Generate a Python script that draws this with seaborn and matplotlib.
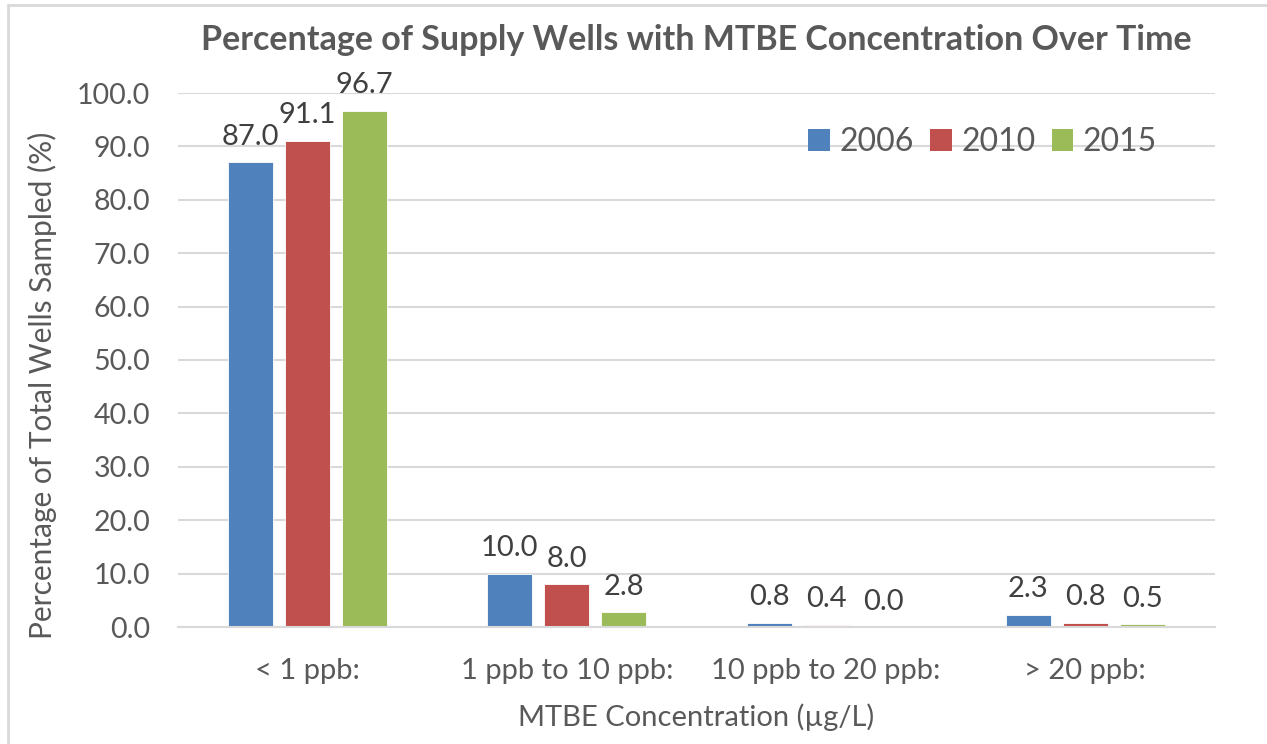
import numpy as np
import pandas as pd
import matplotlib.pyplot as plt
import seaborn as sns
from matplotlib.lines import Line2D
from matplotlib.patches import Patch

categories = ["< 1 ppb:", "1 ppb to 10 ppb:", "10 ppb to 20 ppb:", "> 20 ppb:"]
years = ["2006", "2010", "2015"]
pct_2006 = [87.0, 10.0, 0.8, 2.3]
pct_2010 = [91.1, 8.0, 0.4, 0.8]
pct_2015 = [96.7, 2.8, 0.0, 0.5]

colors = ["#4F81BD", "#C0504D", "#9BBB59"]
text_col = "#595959"
grid_col = "#D9D9D9"

df = pd.DataFrame({
    "Concentration": categories * 3,
    "Year": [y for y in years for _ in categories],
    "Pct": pct_2006 + pct_2010 + pct_2015,
})

sns.set_theme(style="white")
plt.rcParams["font.family"] = ["Lato", "DejaVu Sans"]

fig = plt.figure(figsize=(12.67, 7.44), dpi=100)
ax = fig.add_axes([178 / 1267, 1 - 627 / 744, (1215 - 178) / 1267, (627 - 93) / 744])

sns.barplot(data=df, x="Concentration", y="Pct", hue="Year", palette=colors,
            width=0.66, gap=0.21, ax=ax, edgecolor="white", linewidth=0.6,
            saturation=1)

for cont in ax.containers:
    ax.bar_label(cont, fmt="%.1f", padding=9, fontsize=21, color="#404040")

ax.set_ylim(0, 100)
ax.set_xlim(-0.5, 3.5)
ax.set_yticks(np.arange(0, 101, 10))
ax.set_yticklabels([f"{v:.1f}" for v in np.arange(0, 101, 10)])
ax.yaxis.grid(True, color=grid_col, linewidth=1.5)
ax.set_axisbelow(True)
for s in ["top", "right", "left"]:
    ax.spines[s].set_visible(False)
ax.spines["bottom"].set_color(grid_col)
ax.spines["bottom"].set_linewidth(1.5)
ax.tick_params(axis="y", length=0, pad=20, labelsize=20.5, labelcolor=text_col)
ax.tick_params(axis="x", length=0, pad=22, labelsize=21, labelcolor=text_col)

ax.set_xlabel("MTBE Concentration (µg/L)", fontsize=21, color=text_col, labelpad=14)
ax.set_ylabel("Percentage of Total Wells Sampled (%)", fontsize=21.5, color=text_col)
ax.yaxis.set_label_coords(-0.117, 0.453)
ax.set_title("Percentage of Supply Wells with MTBE Concentration Over Time",
             fontsize=24.5, fontweight="bold", color=text_col, pad=31)

handles = [Patch(facecolor=c, edgecolor="none") for c in colors]
ax.legend(handles, years, loc="center right", bbox_to_anchor=(0.972, 0.908),
          ncol=3, frameon=False, fontsize=23, labelcolor=text_col,
          handlelength=0.68, handleheight=0.68, handletextpad=0.3, columnspacing=0.5)

fig.add_artist(Line2D([8 / 1267, 8 / 1267], [0, 1 - 5 / 744], color=grid_col, linewidth=2))
fig.add_artist(Line2D([8 / 1267, 1], [1 - 5 / 744, 1 - 5 / 744], color=grid_col, linewidth=2))

fig.savefig("out.png", dpi=100)
